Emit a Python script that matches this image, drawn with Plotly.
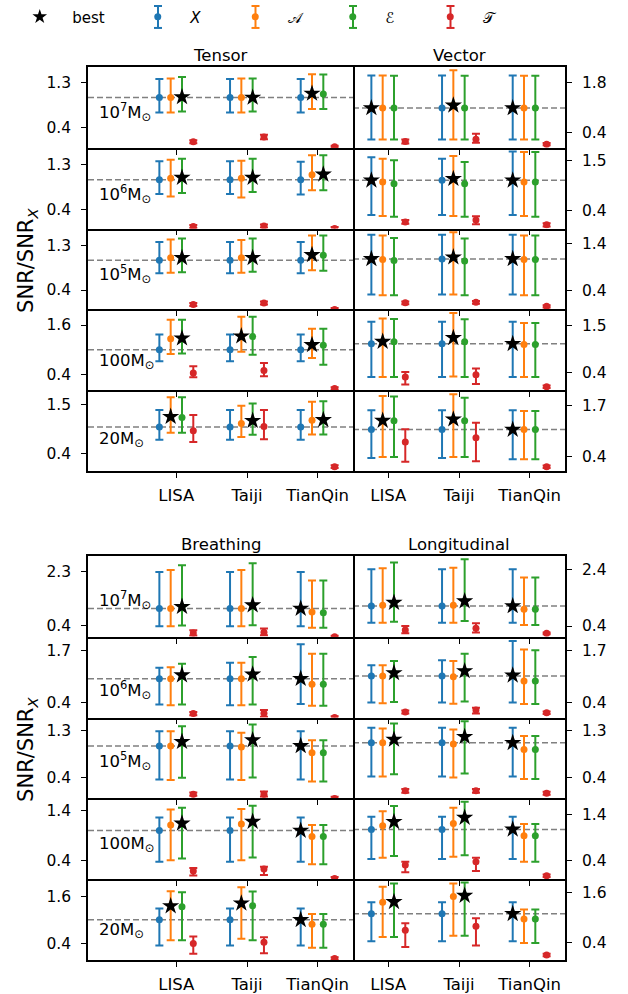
import plotly.graph_objects as go

# ---------------- data ----------------
DETECTORS = ["LISA", "Taiji", "TianQin"]
CHANNELS = ["<i>X</i>", "𝒜", "ℰ", "𝒯"]
MODES = ["Tensor", "Vector", "Breathing", "Longitudinal"]
MASSES = ["10<sup>7</sup>M<sub>⊙</sub>", "10<sup>6</sup>M<sub>⊙</sub>",
          "10<sup>5</sup>M<sub>⊙</sub>", "100M<sub>⊙</sub>", "20M<sub>⊙</sub>"]

# each entry: [row(mass)][detector][channel X, A, E, T] = (mid, low, high)
TENSOR = [
    [[(1.0, 0.70, 1.37), (1.0, 0.70, 1.38), (1.01, 0.72, 1.41), (0.12, 0.09, 0.15)],
     [(1.0, 0.70, 1.37), (1.0, 0.70, 1.38), (1.0, 0.72, 1.38), (0.215, 0.17, 0.26)],
     [(1.0, 0.70, 1.37), (1.08, 0.77, 1.465), (1.068, 0.77, 1.46), (0.02, 0.0, 0.04)]],
    [[(1.0, 0.72, 1.37), (1.03, 0.67, 1.40), (1.045, 0.74, 1.42), (0.07, 0.04, 0.10)],
     [(1.0, 0.72, 1.37), (1.03, 0.65, 1.38), (1.045, 0.76, 1.42), (0.08, 0.05, 0.11)],
     [(1.0, 0.71, 1.36), (1.10, 0.795, 1.49), (1.11, 0.795, 1.49), (0.03, 0.0, 0.06)]],
    [[(1.0, 0.74, 1.37), (1.05, 0.75, 1.42), (1.05, 0.76, 1.44), (0.11, 0.08, 0.14)],
     [(1.0, 0.74, 1.37), (1.05, 0.75, 1.41), (1.05, 0.77, 1.44), (0.14, 0.11, 0.17)],
     [(1.0, 0.74, 1.37), (1.11, 0.80, 1.50), (1.10, 0.79, 1.50), (0.01, -0.02, 0.04)]],
    [[(1.0, 0.72, 1.37), (1.27, 0.90, 1.73), (1.28, 0.91, 1.73), (0.44, 0.335, 0.60)],
     [(1.0, 0.72, 1.37), (1.33, 0.95, 1.80), (1.32, 0.88, 1.80), (0.50, 0.36, 0.68)],
     [(1.0, 0.72, 1.37), (1.12, 0.80, 1.51), (1.11, 0.64, 1.51), (0.06, 0.03, 0.09)]],
    [[(1.0, 0.71, 1.38), (1.23, 0.87, 1.67), (1.21, 0.865, 1.67), (0.91, 0.655, 1.27)],
     [(1.0, 0.71, 1.38), (1.075, 0.77, 1.48), (1.14, 0.82, 1.53), (1.01, 0.72, 1.38)],
     [(1.0, 0.71, 1.38), (1.15, 0.83, 1.57), (1.16, 0.83, 1.58), (0.10, 0.07, 0.13)]],
]
VECTOR = [
    [[(1.09, 0.21, 2.0), (1.09, 0.21, 2.0), (1.09, 0.21, 1.99), (0.157, 0.10, 0.21)],
     [(1.09, 0.21, 2.0), (1.165, 0.21, 2.145), (1.09, 0.21, 1.99), (0.213, 0.12, 0.37)],
     [(1.09, 0.21, 2.0), (1.09, 0.21, 1.99), (1.09, 0.21, 1.99), (0.08, 0.05, 0.11)]],
    [[(1.066, 0.31, 1.565), (1.03, 0.29, 1.536), (0.99, 0.27, 1.50), (0.16, 0.12, 0.20)],
     [(1.066, 0.31, 1.536), (1.10, 0.29, 1.594), (0.99, 0.27, 1.464), (0.20, 0.11, 0.286)],
     [(1.066, 0.31, 1.695), (1.03, 0.29, 1.68), (1.03, 0.27, 1.68), (0.096, 0.06, 0.13)]],
    [[(1.074, 0.315, 1.59), (1.06, 0.30, 1.57), (1.04, 0.30, 1.52), (0.14, 0.11, 0.17)],
     [(1.074, 0.315, 1.59), (1.11, 0.315, 1.64), (1.03, 0.30, 1.506), (0.15, 0.12, 0.18)],
     [(1.074, 0.315, 1.59), (1.06, 0.30, 1.57), (1.06, 0.30, 1.57), (0.067, 0.04, 0.09)]],
    [[(1.074, 0.307, 1.585), (1.125, 0.307, 1.66), (1.12, 0.307, 1.646), (0.307, 0.13, 0.42)],
     [(1.074, 0.307, 1.585), (1.213, 0.32, 1.787), (1.12, 0.307, 1.64), (0.36, 0.145, 0.50)],
     [(1.074, 0.307, 1.585), (1.058, 0.307, 1.554), (1.058, 0.307, 1.554), (0.08, 0.05, 0.11)]],
    [[(1.097, 0.37, 1.59), (1.325, 0.40, 1.955), (1.32, 0.40, 1.94), (0.78, 0.28, 1.105)],
     [(1.097, 0.37, 1.59), (1.36, 0.40, 2.0), (1.32, 0.40, 1.91), (0.89, 0.29, 1.27)],
     [(1.097, 0.34, 1.59), (1.097, 0.34, 1.57), (1.097, 0.34, 1.57), (0.15, 0.12, 0.18)]],
]
BREATHING = [
    [[(1.0, 0.37, 2.3), (1.0, 0.37, 2.37), (1.065, 0.40, 2.54), (0.13, 0.04, 0.23)],
     [(1.0, 0.37, 2.3), (1.0, 0.37, 2.37), (1.12, 0.41, 2.61), (0.16, 0.05, 0.29)],
     [(1.0, 0.37, 2.3), (0.875, 0.32, 2.0), (0.85, 0.32, 2.0), (0.0, -0.03, 0.03)]],
    [[(1.0, 0.35, 1.28), (1.0, 0.33, 1.29), (1.09, 0.35, 1.38), (0.12, 0.08, 0.16)],
     [(1.0, 0.33, 1.40), (1.0, 0.33, 1.40), (1.11, 0.35, 1.55), (0.13, 0.04, 0.21)],
     [(1.0, 0.36, 1.87), (0.86, 0.32, 1.63), (0.86, 0.32, 1.63), (0.02, -0.01, 0.05)]],
    [[(1.0, 0.36, 1.28), (1.0, 0.35, 1.28), (1.08, 0.394, 1.376), (0.08, 0.05, 0.11)],
     [(1.0, 0.36, 1.28), (0.98, 0.35, 1.25), (1.11, 0.40, 1.41), (0.08, 0.035, 0.13)],
     [(1.0, 0.36, 1.28), (0.87, 0.32, 1.11), (0.87, 0.32, 1.11), (0.0, -0.03, 0.03)]],
    [[(1.0, 0.366, 1.265), (1.11, 0.40, 1.427), (1.145, 0.434, 1.46), (0.18, 0.09, 0.24)],
     [(1.0, 0.366, 1.265), (1.13, 0.40, 1.434), (1.18, 0.454, 1.50), (0.22, 0.10, 0.265)],
     [(1.0, 0.366, 1.265), (0.88, 0.32, 1.11), (0.88, 0.32, 1.11), (0.03, 0.0, 0.06)]],
    [[(1.0, 0.35, 1.29), (1.35, 0.48, 1.725), (1.333, 0.48, 1.70), (0.40, 0.14, 0.58)],
     [(1.0, 0.35, 1.29), (1.42, 0.52, 1.825), (1.36, 0.48, 1.72), (0.433, 0.15, 0.56)],
     [(1.0, 0.35, 1.29), (0.89, 0.29, 1.15), (0.89, 0.29, 1.15), (0.02, -0.01, 0.05)]],
]
LONGITUDINAL = [
    [[(1.114, 0.52, 2.424), (1.14, 0.52, 2.46), (1.233, 0.555, 2.66), (0.26, 0.14, 0.40)],
     [(1.114, 0.52, 2.424), (1.14, 0.52, 2.48), (1.29, 0.58, 2.78), (0.32, 0.17, 0.50)],
     [(1.114, 0.52, 2.424), (0.995, 0.436, 2.126), (0.995, 0.436, 2.126), (0.14, 0.11, 0.17)]],
    [[(1.07, 0.40, 1.34), (1.07, 0.38, 1.34), (1.146, 0.41, 1.45), (0.16, 0.12, 0.20)],
     [(1.07, 0.40, 1.465), (1.05, 0.37, 1.45), (1.195, 0.425, 1.63), (0.21, 0.12, 0.27)],
     [(1.085, 0.40, 1.95), (0.94, 0.36, 1.74), (0.94, 0.36, 1.72), (0.14, 0.11, 0.17)]],
    [[(1.07, 0.42, 1.357), (1.07, 0.42, 1.345), (1.134, 0.464, 1.44), (0.145, 0.11, 0.18)],
     [(1.07, 0.42, 1.357), (1.045, 0.40, 1.326), (1.186, 0.48, 1.485), (0.145, 0.11, 0.18)],
     [(1.07, 0.42, 1.357), (0.94, 0.375, 1.198), (0.94, 0.375, 1.198), (0.10, 0.07, 0.13)]],
    [[(1.076, 0.436, 1.35), (1.155, 0.465, 1.47), (1.24, 0.50, 1.58), (0.306, 0.148, 0.378)],
     [(1.076, 0.436, 1.35), (1.205, 0.486, 1.544), (1.33, 0.52, 1.67), (0.378, 0.177, 0.465)],
     [(1.076, 0.436, 1.35), (0.94, 0.378, 1.19), (0.94, 0.378, 1.19), (0.076, 0.05, 0.10)]],
    [[(1.095, 0.44, 1.37), (1.37, 0.54, 1.74), (1.38, 0.54, 1.82), (0.70, 0.30, 0.87)],
     [(1.095, 0.44, 1.37), (1.505, 0.57, 1.82), (1.53, 0.57, 1.84), (0.80, 0.34, 0.99)],
     [(1.095, 0.44, 1.37), (0.97, 0.40, 1.20), (0.97, 0.40, 1.20), (0.11, 0.08, 0.14)]],
]
# best channel index per [mode][row][detector]
BEST = [
    [[2, 2, 1], [2, 2, 2], [2, 2, 1], [2, 1, 1], [1, 2, 2]],
    [[0, 1, 0], [0, 1, 0], [0, 1, 0], [1, 1, 0], [1, 1, 0]],
    [[2, 2, 0], [2, 2, 0], [2, 2, 0], [2, 2, 0], [1, 1, 0]],
    [[2, 2, 0], [2, 2, 0], [2, 2, 0], [2, 2, 0], [2, 2, 0]],
]
# y tick labels per [mode][row]
YTICKS = [
    [[0.4, 1.3], [0.4, 1.3], [0.4, 1.3], [0.4, 1.6], [0.4, 1.5]],
    [[0.4, 1.8], [0.4, 1.5], [0.4, 1.4], [0.4, 1.5], [0.4, 1.7]],
    [[0.4, 2.3], [0.4, 1.7], [0.4, 1.3], [0.4, 1.4], [0.4, 1.6]],
    [[0.4, 2.4], [0.4, 1.7], [0.4, 1.3], [0.4, 1.4], [0.4, 1.6]],
]
DATA = [TENSOR, VECTOR, BREATHING, LONGITUDINAL]

# ---------------- layout constants ----------------
W, H = 628, 994
COLORS = ["#1f77b4", "#ff7f0e", "#2ca02c", "#d62728"]
OFFSETS = [-0.24, -0.08, 0.08, 0.24]
YRANGE = [
    [[0.0, 1.61], [0.03, 1.64], [0.01, 1.64], [0.02, 1.98], [0.0, 1.83]],
    [[-0.02, 2.24], [0.016, 1.775], [0.0, 1.72], [0.0, 1.87], [0.04, 2.10]],
    [[0.0, 2.87], [0.02, 2.06], [0.0, 1.54], [0.015, 1.65], [-0.02, 2.03]],
    [[0.02, 2.9], [0.02, 2.06], [0.0, 1.555], [0.0, 1.745], [-0.01, 1.92]],
]
COLX = [(88, 353), (353, 565)]
BLOCK_TOP = [65, 555]
ROW_H = 81.0
LABEL_Y = [[0.72] * 5, None, [1.30, 0.72, 0.72, 0.72, 0.72], None]
FONT = "DejaVu Sans"
LW = 1.6

fig = go.Figure()
shapes, annotations = [], []

for m in range(4):
    block, col = divmod(m, 2)
    x0p, x1p = COLX[col]
    for r in range(5):
        n = m * 5 + r + 1
        xs = "" if n == 1 else str(n)
        top = BLOCK_TOP[block] + r * ROW_H
        bot = top + ROW_H
        ydom = [1 - bot / H, 1 - top / H]
        xdom = [x0p / W, x1p / W]
        panel = DATA[m][r]
        for k in range(4):
            xv = [d + OFFSETS[k] for d in range(3)]
            mid = [panel[d][k][0] for d in range(3)]
            lo = [panel[d][k][1] for d in range(3)]
            hi = [panel[d][k][2] for d in range(3)]
            fig.add_trace(go.Scatter(
                x=xv, y=mid, mode="markers", xaxis="x" + xs, yaxis="y" + xs,
                marker=dict(color=COLORS[k], size=7),
                error_y=dict(type="data", symmetric=False,
                             array=[h - c for h, c in zip(hi, mid)],
                             arrayminus=[c - l for c, l in zip(mid, lo)],
                             color=COLORS[k], thickness=2, width=4),
                name=CHANNELS[k], showlegend=False,
            ))
        bx = [d + OFFSETS[BEST[m][r][d]] for d in range(3)]
        by = [panel[d][BEST[m][r][d]][0] for d in range(3)]
        fig.add_trace(go.Scatter(
            x=bx, y=by, mode="markers", xaxis="x" + xs, yaxis="y" + xs,
            marker=dict(symbol="star", color="black", size=13, line=dict(width=0)),
            name="best", showlegend=False,
        ))
        # reference line at the X-channel level
        shapes.append(dict(type="line", xref="x" + xs + " domain", x0=0, x1=1,
                           yref="y" + xs, y0=panel[0][0][0], y1=panel[0][0][0],
                           line=dict(color="#808080", width=1.5, dash="6px,3px"),
                           layer="below"))
        last = r == 4
        fig.update_layout(**{
            "xaxis" + xs: dict(domain=xdom, anchor="y" + xs,
                               range=[-1.25, 2.5] if col == 0 else [-0.5, 2.5],
                               tickvals=[0, 1, 2], ticktext=DETECTORS,
                               showticklabels=last, ticks="outside", ticklen=5,
                               tickwidth=1.3, tickcolor="black",
                               showline=True, linecolor="black", linewidth=LW,
                               mirror=(r == 0), showgrid=False, zeroline=False,
                               ticklabelstandoff=3,
                               tickfont=dict(size=16.5, color="black", family=FONT)),
            "yaxis" + xs: dict(domain=ydom, anchor="x" + xs, range=YRANGE[m][r],
                               tickvals=YTICKS[m][r],
                               ticktext=["%.1f" % v for v in YTICKS[m][r]],
                               side="left" if col == 0 else "right",
                               ticks="outside", ticklen=5, tickwidth=1.3,
                               tickcolor="black", showline=True,
                               linecolor="black", linewidth=LW, mirror=(col == 0),
                               showgrid=False, zeroline=False,
                               ticklabelstandoff=7,
                               tickfont=dict(size=15.5, color="black", family=FONT)),
        })
        if LABEL_Y[m] is not None:
            annotations.append(dict(text=MASSES[r], xref="x" + xs, yref="y" + xs,
                                    x=-1.12, y=LABEL_Y[m][r], xanchor="left",
                                    yanchor="middle", showarrow=False,
                                    font=dict(size=16.5, color="black", family=FONT)))
        if r == 0:
            annotations.append(dict(text=MODES[m], xref="paper", yref="paper",
                                    x=(x0p + x1p) / 2 / W, y=1 - (top - 11) / H,
                                    xanchor="center", yanchor="middle",
                                    showarrow=False,
                                    font=dict(size=16.5, color="black", family=FONT)))

for block in range(2):
    yc = BLOCK_TOP[block] + 2.4 * ROW_H
    annotations.append(dict(text="SNR/SNR<sub><i>X</i></sub>", xref="paper",
                            yref="paper", x=27 / W, y=1 - yc / H, textangle=-90,
                            xanchor="center", yanchor="middle", showarrow=False,
                            font=dict(size=21, color="black", family=FONT)))

# ---------------- legends ----------------
LEG_Y = 15
ITEM_W = 55
ICON_OFF = ITEM_W / 2 + 5.25         # icon centre offset inside a legend entry
LEG2_FIRST = 158                     # centre of the first channel icon (px)
LEG2_STEP = 97.5                     # spacing between channel entries (px)
fig.add_trace(go.Scatter(x=[None], y=[None], mode="markers", name="best",
                         marker=dict(symbol="star", color="black", size=11),
                         showlegend=True, legend="legend"))
for k in range(4):
    fig.add_trace(go.Scatter(x=[None], y=[None], mode="markers", name=CHANNELS[k],
                             marker=dict(color=COLORS[k], size=7),
                             showlegend=True, legend="legend2"))
    # error-bar glyph drawn behind the legend dot
    cx = (LEG2_FIRST + k * LEG2_STEP) / W
    hw = 4 / W
    for (xa, xb, ya, yb) in [(cx, cx, LEG_Y - 11, LEG_Y + 11),
                             (cx - hw, cx + hw, LEG_Y - 11, LEG_Y - 11),
                             (cx - hw, cx + hw, LEG_Y + 11, LEG_Y + 11)]:
        shapes.append(dict(type="line", xref="paper", yref="paper",
                           x0=xa, x1=xb, y0=1 - ya / H, y1=1 - yb / H,
                           line=dict(color=COLORS[k], width=2), layer="above"))

fig.update_layout(
    width=W, height=H, margin=dict(l=0, r=0, t=0, b=0),
    paper_bgcolor="white", plot_bgcolor="white",
    font=dict(family=FONT, color="black"),
    shapes=shapes, annotations=annotations,
    legend=dict(orientation="h", x=(40 - ICON_OFF) / W, y=1 - LEG_Y / H,
                yanchor="middle", xanchor="left", font=dict(size=15, family=FONT),
                itemwidth=ITEM_W, bgcolor="rgba(0,0,0,0)"),
    legend2=dict(orientation="h", x=(LEG2_FIRST - ICON_OFF) / W, y=1 - LEG_Y / H,
                 yanchor="middle", xanchor="left", font=dict(size=15, family=FONT),
                 itemwidth=ITEM_W, entrywidth=LEG2_STEP - ITEM_W - 15,
                 entrywidthmode="pixels", bgcolor="rgba(0,0,0,0)"),
)

fig.write_html("out.html")
